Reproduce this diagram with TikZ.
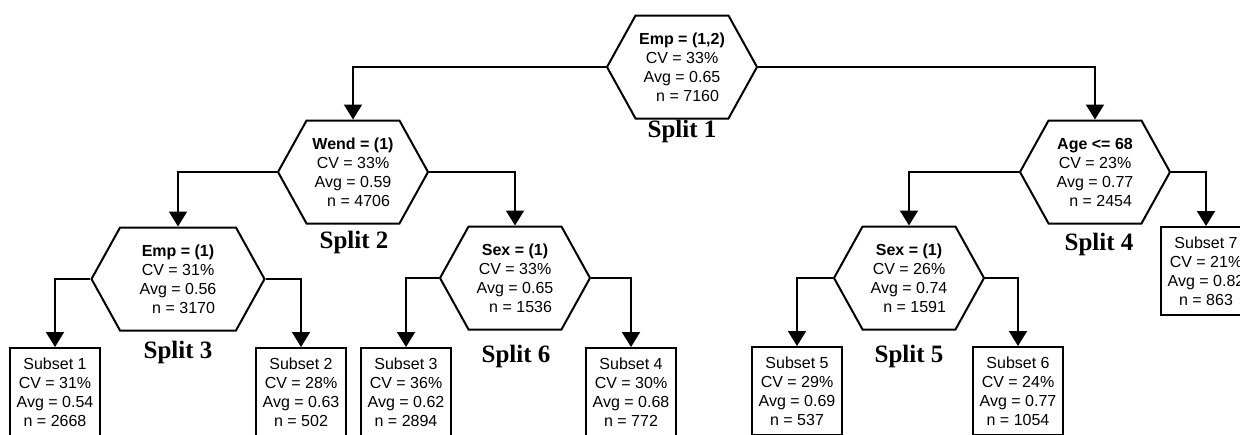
\documentclass[tikz,border=0pt]{standalone}
\usepackage{fontspec}
\setmainfont{Liberation Serif}
\setsansfont{Liberation Sans}
\usetikzlibrary{shapes.symbols,arrows.meta}

\tikzset{
  split/.style={signal,signal to=west and east,signal pointer angle=122,draw,line width=1pt,
    minimum width=75pt,minimum height=51.5pt,inner sep=0pt,align=center,
    font=\sffamily\fontsize{8}{9.5}\selectfont},
  subset/.style={rectangle,draw,line width=1pt,minimum width=45pt,minimum height=44pt,
    inner sep=0pt,align=center,font=\sffamily\fontsize{8}{9.5}\selectfont},
  splitlabel/.style={font=\bfseries\fontsize{12.5}{14}\selectfont},
  link/.style={line width=1pt,-{Triangle[length=7.5pt,width=9pt]}}
}

\begin{document}
\begin{tikzpicture}[x=0.5pt,y=-0.5pt]
\useasboundingbox (0,0) rectangle (1240,434);
\clip (0,0) rectangle (1240,434);

% splits
\node[split] (s1) at (682,67) {\textbf{Emp = (1,2)}\\CV = 33\%\\Avg = 0.65\\\hspace*{0.7em}n = 7160};
\node[split] (s2) at (353,172) {\textbf{Wend = (1)}\\CV = 33\%\\Avg = 0.59\\\hspace*{0.7em}n = 4706};
\node[split,minimum width=86.5pt] (s3) at (178,279) {\textbf{Emp = (1)}\\CV = 31\%\\Avg = 0.56\\\hspace*{0.7em}n = 3170};
\node[split] (s6) at (515,278) {\textbf{Sex = (1)}\\CV = 33\%\\Avg = 0.65\\\hspace*{0.7em}n = 1536};
\node[split] (s4) at (1095,172) {\textbf{Age <= 68}\\CV = 23\%\\Avg = 0.77\\\hspace*{0.7em}n = 2454};
\node[split] (s5) at (909,278) {\textbf{Sex = (1)}\\CV = 26\%\\Avg = 0.74\\\hspace*{0.7em}n = 1591};

\node[splitlabel] (l1) at (682,131) {Split 1};
\node[splitlabel] (l2) at (354,242) {Split 2};
\node[splitlabel] (l3) at (178,352) {Split 3};
\node[splitlabel] (l6) at (516,356) {Split 6};
\node[splitlabel] (l4) at (1099,244) {Split 4};
\node[splitlabel] (l5) at (909,356) {Split 5};

% subsets
\node[subset] (t1) at (55,392) {Subset 1\\CV = 31\%\\Avg = 0.54\\n = 2668};
\node[subset] (t2) at (301,392) {Subset 2\\CV = 28\%\\Avg = 0.63\\n = 502};
\node[subset] (t3) at (406,392) {Subset 3\\CV = 36\%\\Avg = 0.62\\n = 2894};
\node[subset] (t4) at (631,392) {Subset 4\\CV = 30\%\\Avg = 0.68\\n = 772};
\node[subset] (t5) at (797,391) {Subset 5\\CV = 29\%\\Avg = 0.69\\n = 537};
\node[subset] (t6) at (1018,391) {Subset 6\\CV = 24\%\\Avg = 0.77\\n = 1054};
\node[subset] (t7) at (1206,271) {Subset 7\\CV = 21\%\\Avg = 0.82\\n = 863};

% links
\draw[link] (s1.west) -| (s2.north);
\draw[link] (s1.east) -| (s4.north);
\draw[link] (s2.west) -| (s3.north);
\draw[link] (s2.east) -| (s6.north);
\draw[link] (s3.west) -| (t1.north);
\draw[link] (s3.east) -| (t2.north);
\draw[link] (s6.west) -| (t3.north);
\draw[link] (s6.east) -| (t4.north);
\draw[link] (s4.west) -| (s5.north);
\draw[link] (s4.east) -| (t7.north);
\draw[link] (s5.west) -| (t5.north);
\draw[link] (s5.east) -| (t6.north);
\end{tikzpicture}
\end{document}
